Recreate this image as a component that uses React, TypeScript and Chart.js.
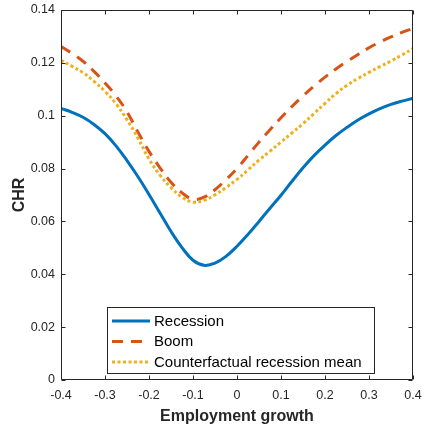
import React, { useEffect, useRef } from "react";
import { Chart, registerables } from "chart.js";

Chart.register(...registerables);

const employmentGrowth = [
  -0.4, -0.375, -0.35, -0.325, -0.3, -0.275, -0.25, -0.225, -0.2, -0.175, -0.15,
  -0.125, -0.1, -0.075, -0.05, -0.025, 0, 0.025, 0.05, 0.075, 0.1, 0.125, 0.15,
  0.175, 0.2, 0.225, 0.25, 0.275, 0.3, 0.325, 0.35, 0.375, 0.4,
];

const recession = [
  0.1028, 0.1013, 0.0994, 0.0967, 0.0932, 0.0886, 0.083, 0.0769, 0.0702, 0.0632,
  0.0562, 0.0501, 0.0453, 0.0434, 0.0442, 0.0468, 0.0506, 0.0551, 0.06, 0.065,
  0.0699, 0.0752, 0.0803, 0.0849, 0.0889, 0.0925, 0.0956, 0.0984, 0.1007, 0.1027,
  0.1043, 0.1055, 0.1066,
];

const boom = [
  0.1262, 0.1236, 0.1206, 0.1168, 0.1124, 0.1075, 0.1015, 0.0938, 0.0865, 0.0803,
  0.0748, 0.0708, 0.0684, 0.0692, 0.072, 0.0758, 0.08, 0.085, 0.09, 0.0947,
  0.0992, 0.1035, 0.1075, 0.1112, 0.1146, 0.1177, 0.1205, 0.1232, 0.1257, 0.1279,
  0.1298, 0.1315, 0.133,
];

const counterfactual = [
  0.121, 0.1187, 0.1163, 0.113, 0.1092, 0.1045, 0.0985, 0.0915, 0.0836, 0.0775,
  0.0728, 0.0692, 0.0673, 0.068, 0.0701, 0.0728, 0.0759, 0.0795, 0.0832, 0.0866,
  0.09, 0.0935, 0.097, 0.1008, 0.1047, 0.1084, 0.1115, 0.1141, 0.1164, 0.1186,
  0.1207, 0.123, 0.1254,
];

const seriesLabels = ["Recession", "Boom", "Counterfactual recession mean"];
const xTitle = "Employment growth";
const yTitle = "CHR";

const FONT = "'Liberation Sans', Arial, Helvetica, sans-serif";
const AXIS_COLOR = "#262626";

const toPoints = (ys: number[]) => employmentGrowth.map((x, i) => ({ x, y: ys[i] }));
const fmt = (v: number) => String(Number(Number(v).toFixed(3)));

const boxPlugin = {
  id: "matlabBox",
  afterDraw(chart: any) {
    const { ctx, chartArea } = chart;
    const { left, right, top, bottom } = chartArea;
    const xs = chart.scales.x;
    const ys = chart.scales.y;
    ctx.save();
    ctx.strokeStyle = AXIS_COLOR;
    ctx.lineWidth = 1;
    const L = Math.round(left) + 0.5;
    const R = Math.round(right) - 0.5;
    const T = Math.round(top) + 0.5;
    const B = Math.round(bottom) - 0.5;
    ctx.beginPath();
    ctx.rect(L, T, R - L, B - T);
    ctx.stroke();
    const tl = 4;
    ctx.beginPath();
    xs.ticks.forEach((t: any) => {
      const px = Math.round(xs.getPixelForValue(t.value)) + 0.5;
      ctx.moveTo(px, B);
      ctx.lineTo(px, B - tl);
      ctx.moveTo(px, T);
      ctx.lineTo(px, T + tl);
    });
    ys.ticks.forEach((t: any) => {
      const py = Math.round(ys.getPixelForValue(t.value)) + 0.5;
      ctx.moveTo(L, py);
      ctx.lineTo(L + tl, py);
      ctx.moveTo(R, py);
      ctx.lineTo(R - tl, py);
    });
    ctx.stroke();

    // axis titles
    ctx.fillStyle = AXIS_COLOR;
    ctx.font = `bold 16px ${FONT}`;
    ctx.textAlign = "center";
    ctx.textBaseline = "alphabetic";
    ctx.fillText(xTitle, (left + right) / 2, 420.5);
    ctx.save();
    ctx.translate(23.5, (top + bottom) / 2);
    ctx.rotate(-Math.PI / 2);
    ctx.fillText(yTitle, 0, 0);
    ctx.restore();

    // legend
    const bx = 107.5, by = 307.5, bw = 267, bh = 66;
    ctx.fillStyle = "#ffffff";
    ctx.fillRect(bx, by, bw, bh);
    ctx.strokeStyle = AXIS_COLOR;
    ctx.lineWidth = 1;
    ctx.strokeRect(bx, by, bw, bh);
    const rows = [321, 341.5, 362];
    chart.data.datasets.forEach((ds: any, i: number) => {
      const y = rows[i];
      ctx.save();
      ctx.strokeStyle = ds.borderColor;
      ctx.lineWidth = ds.borderWidth;
      ctx.setLineDash(ds.borderDash || []);
      ctx.beginPath();
      ctx.moveTo(112, y);
      ctx.lineTo(150, y);
      ctx.stroke();
      ctx.restore();
      ctx.fillStyle = "#000000";
      ctx.font = `15px ${FONT}`;
      ctx.textAlign = "left";
      ctx.textBaseline = "middle";
      ctx.fillText(ds.label, 154, y + 0.5);
    });
    ctx.restore();
  },
};

export default function App() {
  const ref = useRef<HTMLCanvasElement | null>(null);
  useEffect(() => {
    if (!ref.current) return;
    const chart = new Chart(ref.current, {
      type: "line",
      data: {
        datasets: [
          {
            label: seriesLabels[0],
            data: toPoints(recession),
            borderColor: "#0072BD",
            borderWidth: 3,
            pointRadius: 0,
            tension: 0.4,
            order: 2,
          },
          {
            label: seriesLabels[1],
            data: toPoints(boom),
            borderColor: "#D95319",
            borderWidth: 3,
            borderDash: [11, 8],
            pointRadius: 0,
            tension: 0.4,
            order: 1,
          },
          {
            label: seriesLabels[2],
            data: toPoints(counterfactual),
            borderColor: "#EDB120",
            borderWidth: 3,
            borderDash: [3, 2.5],
            pointRadius: 0,
            tension: 0.4,
            order: 0,
          },
        ],
      },
      options: {
        responsive: false,
        animation: false,
        layout: { padding: { top: 10, right: 11, left: 0, bottom: 0 } },
        plugins: { legend: { display: false }, tooltip: { enabled: false } },
        scales: {
          x: {
            type: "linear",
            min: -0.4,
            max: 0.4,
            grid: { display: false, drawTicks: false },
            border: { display: false },
            ticks: {
              stepSize: 0.1,
              padding: 8,
              color: AXIS_COLOR,
              font: { size: 12.5, family: FONT },
              maxRotation: 0,
              callback: (v: any) => fmt(v),
            },
            afterFit: (s: any) => {
              s.height = 44;
              s.paddingLeft = 0;
              s.paddingRight = 0;
            },
          },
          y: {
            min: 0,
            max: 0.14,
            grid: { display: false, drawTicks: false },
            border: { display: false },
            ticks: {
              stepSize: 0.02,
              padding: 6,
              color: AXIS_COLOR,
              font: { size: 12.5, family: FONT },
              callback: (v: any) => fmt(v),
            },
            afterFit: (s: any) => {
              s.width = 61;
              s.paddingTop = 0;
              s.paddingBottom = 0;
            },
          },
        },
      },
      plugins: [boxPlugin],
    });
    return () => chart.destroy();
  }, []);
  return (
    <canvas
      ref={ref}
      width={424}
      height={424}
      style={{ position: "absolute", left: 0, top: 0, display: "block", background: "#fff" }}
    />
  );
}
